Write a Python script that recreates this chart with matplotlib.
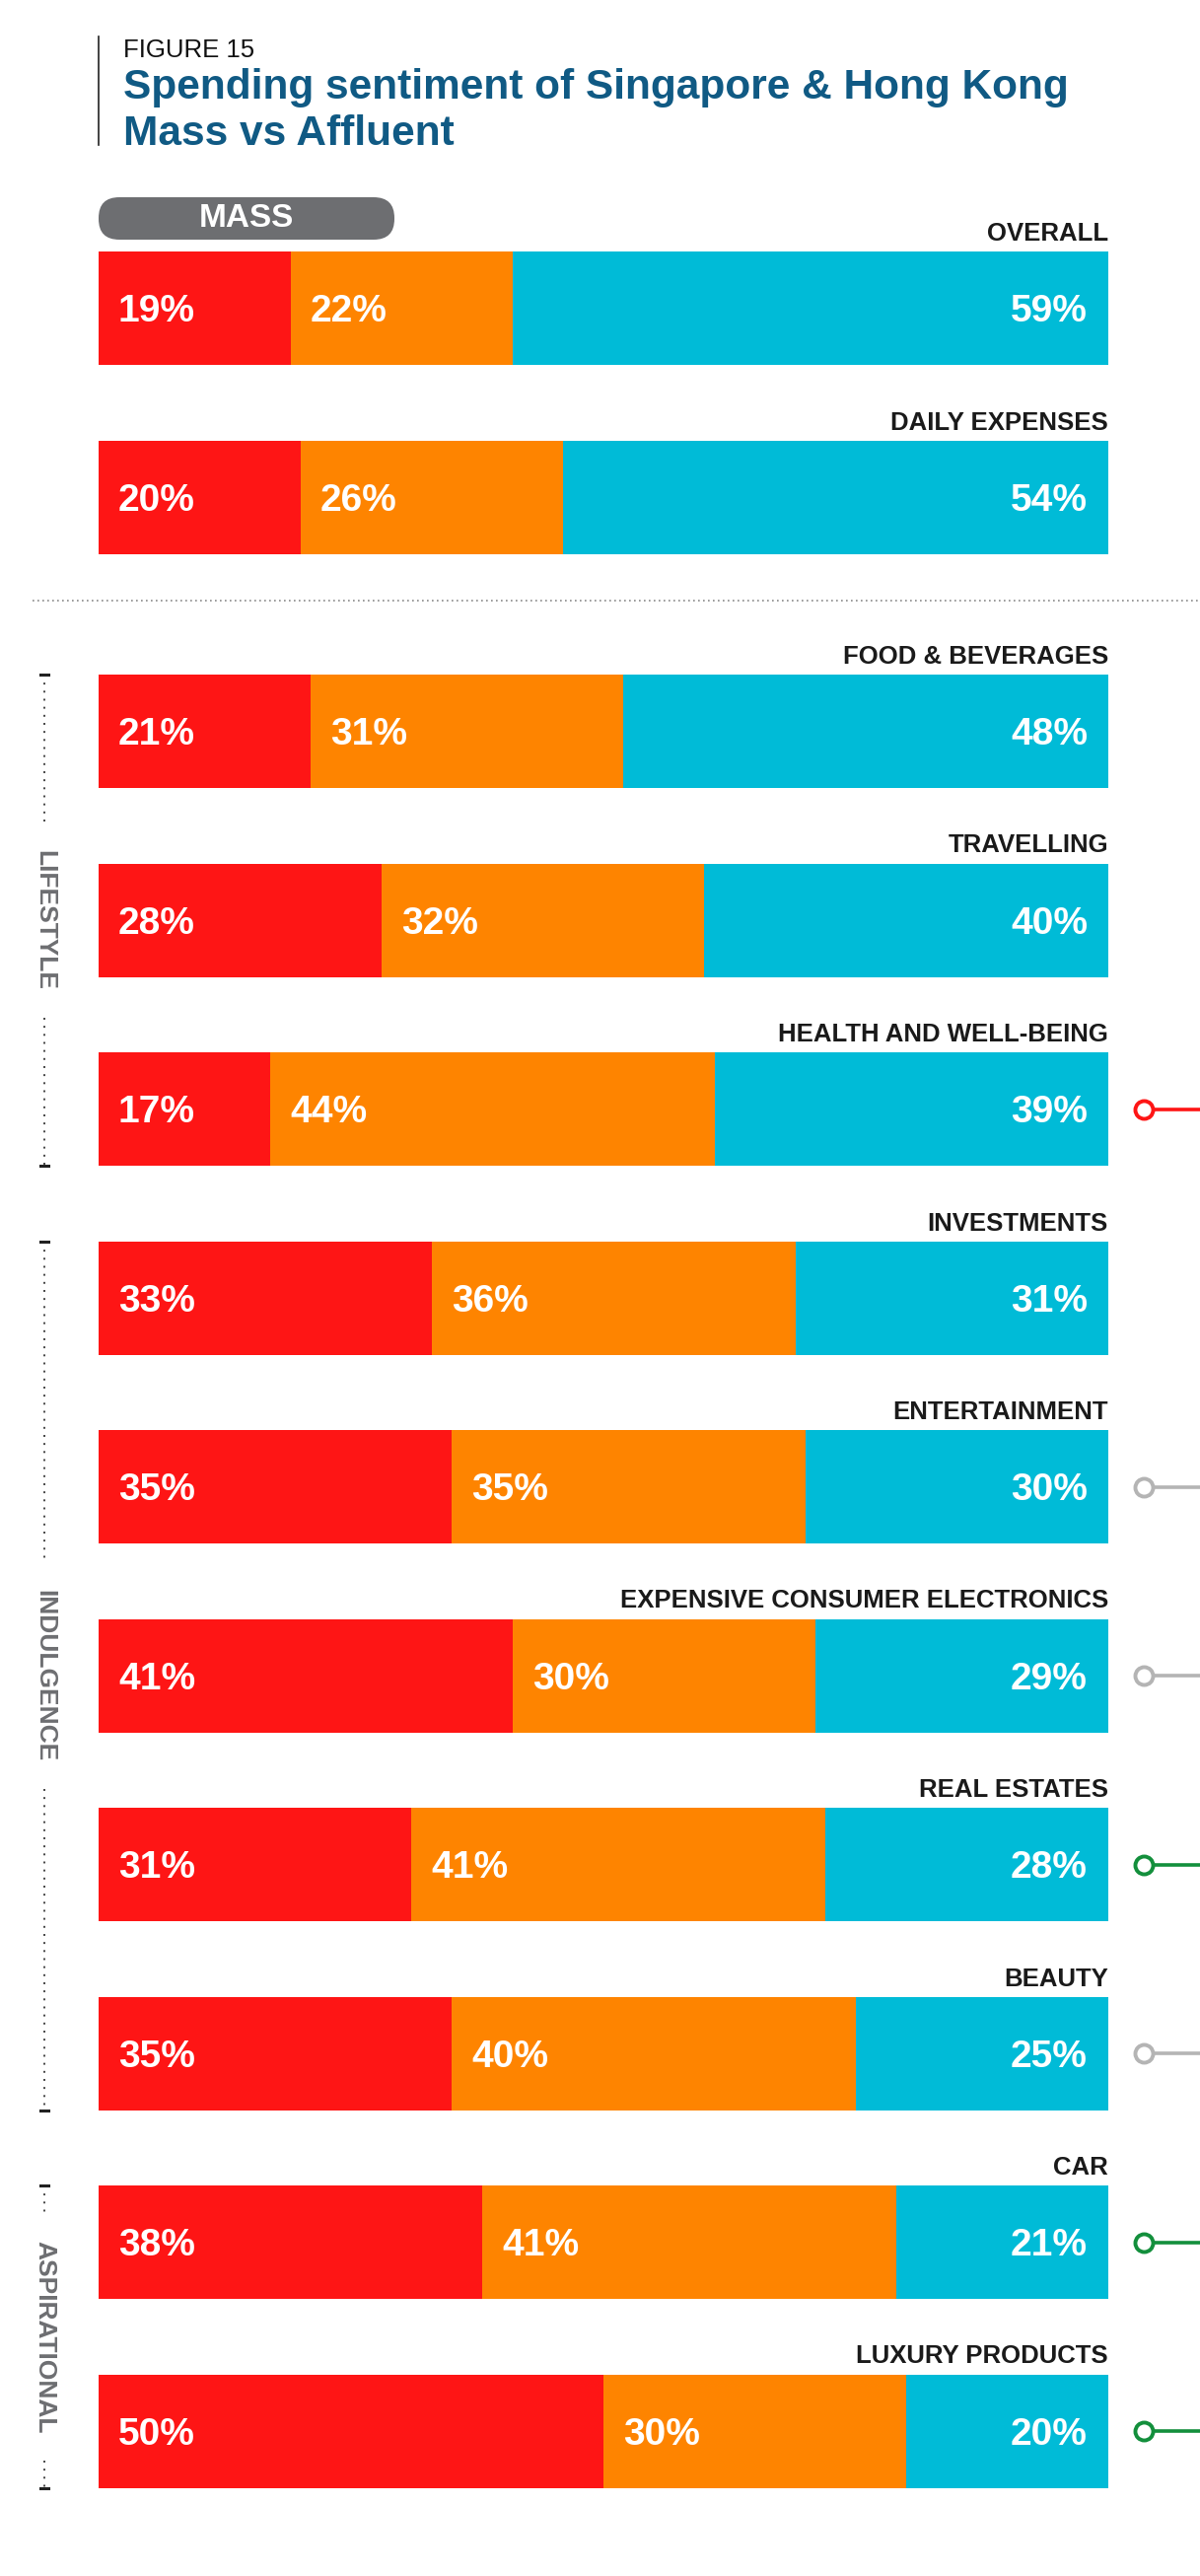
import matplotlib
matplotlib.use("Agg")
import matplotlib.pyplot as plt
from matplotlib.patches import FancyBboxPatch

plt.rcParams['font.family'] = ['Liberation Sans', 'DejaVu Sans']

# ---------------- data ----------------
categories = ["OVERALL", "DAILY EXPENSES", "FOOD & BEVERAGES", "TRAVELLING",
              "HEALTH AND WELL-BEING", "INVESTMENTS", "ENTERTAINMENT",
              "EXPENSIVE CONSUMER ELECTRONICS", "REAL ESTATES", "BEAUTY",
              "CAR", "LUXURY PRODUCTS"]
spend_less = [19, 20, 21, 28, 17, 33, 35, 41, 31, 35, 38, 50]
spend_same = [22, 26, 31, 32, 44, 36, 35, 30, 41, 40, 41, 30]
spend_more = [59, 54, 48, 40, 39, 31, 30, 29, 28, 25, 21, 20]
marker_kind = [None, None, None, None, "red", None, "grey", "grey",
               "green", "grey", "green", "green"]
groups = ["LIFESTYLE", "INDULGENCE", "ASPIRATIONAL"]
group_rows = [(2, 4), (5, 9), (10, 11)]

# ---------------- style ----------------
RED, ORANGE, CYAN = "#fe1515", "#fe8400", "#00bbd7"
MARK = {"red": "#fe1515", "grey": "#b4b4b4", "green": "#138f3c"}
TITLE_C = "#105a84"
GREY = "#6d6e71"

W, H = 1217, 2612
fig = plt.figure(figsize=(W / 100, H / 100), dpi=100)
bg = fig.add_axes([0, 0, 1, 1])
bg.set_xlim(0, W)
bg.set_ylim(H, 0)
bg.axis("off")

BAR_L, BAR_R = 100, 1124
ax = fig.add_axes([BAR_L / W, 0, (BAR_R - BAR_L) / W, 1])
ax.set_xlim(0, 100)
ax.set_ylim(H, 0)
ax.axis("off")

bar_h = 115
pitch = 191.5
tops = [255 + i * pitch for i in range(2)] + [684 + i * pitch for i in range(10)]
centers = [t + bar_h / 2 for t in tops]

pct_fs = 28
cap_off = 0.716 * pct_fs * 100 / 72 / 2

for i, cat in enumerate(categories):
    yc = centers[i]
    a, b, c = spend_less[i], spend_same[i], spend_more[i]
    ax.barh(yc, a, left=0, height=bar_h, color=RED, linewidth=0)
    ax.barh(yc, b, left=a, height=bar_h, color=ORANGE, linewidth=0)
    ax.barh(yc, c, left=a + b, height=bar_h, color=CYAN, linewidth=0)
    ax.annotate(f"{a}%", xy=(0, yc + cap_off), xytext=(20, 0), textcoords="offset pixels",
                ha="left", va="baseline", color="white", fontsize=pct_fs, fontweight="bold")
    ax.annotate(f"{b}%", xy=(a, yc + cap_off), xytext=(20, 0), textcoords="offset pixels",
                ha="left", va="baseline", color="white", fontsize=pct_fs, fontweight="bold")
    ax.annotate(f"{c}%", xy=(100, yc + cap_off), xytext=(-21, 0), textcoords="offset pixels",
                ha="right", va="baseline", color="white", fontsize=pct_fs, fontweight="bold")
    ax.text(100, tops[i] - 11, cat, ha="right", va="baseline", fontsize=18.5,
            fontweight="bold", color="#1a1a1a")
    k = marker_kind[i]
    if k:
        col = MARK[k]
        bg.plot([1160, W + 5], [yc, yc], color=col, lw=2.6, solid_capstyle="butt", zorder=3)
        bg.plot([1160], [yc], marker="o", ms=13, mfc="white", mec=col, mew=2.8, zorder=4)

# ---------------- title ----------------
bg.plot([100, 100], [37, 147], color="#222222", lw=1.2)
bg.text(125, 58, "FIGURE 15", fontsize=18.5, color="#111111", va="baseline", ha="left")
bg.text(125, 100, "Spending sentiment of Singapore & Hong Kong", fontsize=30.5,
        fontweight="bold", color=TITLE_C, va="baseline", ha="left")
bg.text(125, 147, "Mass vs Affluent", fontsize=30.5, fontweight="bold",
        color=TITLE_C, va="baseline", ha="left")

# MASS pill
pill = FancyBboxPatch((100, 200), 300, 43, boxstyle="round,pad=0,rounding_size=21",
                      facecolor=GREY, edgecolor="none")
bg.add_patch(pill)
bg.text(250, 222, "MASS", ha="center", va="center", fontsize=24, fontweight="bold", color="white")

# dotted separator
bg.plot([33, W], [609, 609], color="#8a8a8a", lw=1.2, linestyle=(0, (1, 2)))

# ---------------- group brackets ----------------
fig.canvas.draw()
renderer = fig.canvas.get_renderer()
bx = 45
for g, (r0, r1) in zip(groups, group_rows):
    y0 = tops[r0]
    y1 = tops[r1] + bar_h
    ym = (y0 + y1) / 2
    t = bg.text(bx, ym, g, rotation=-90, ha="center", va="center", fontsize=19,
                fontweight="bold", color=GREY)
    ext = t.get_window_extent(renderer)
    t_top = H - ext.y1
    t_bot = H - ext.y0
    gap = 28
    dot = dict(color="#444444", lw=1.4, linestyle=(0, (1, 3.2)))
    bg.plot([bx, bx], [y0, t_top - gap], **dot)
    bg.plot([bx, bx], [t_bot + gap, y1], **dot)
    bg.plot([bx - 4, bx + 4], [y0, y0], color="#222222", lw=2.2)
    bg.plot([bx - 4, bx + 4], [y1, y1], color="#222222", lw=2.2)

fig.savefig("out.png", dpi=100, facecolor="white")
